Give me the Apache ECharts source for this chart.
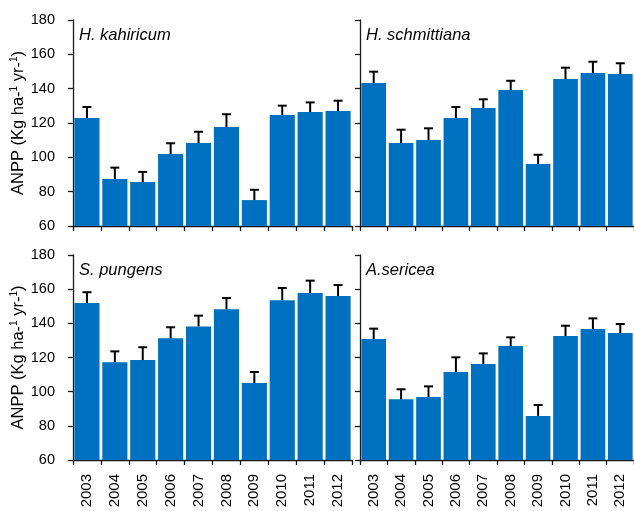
<!DOCTYPE html>
<html>
<head>
<meta charset="utf-8">
<script src="https://cdn.jsdelivr.net/npm/echarts@6/dist/echarts.min.js"></script>
<style>
  html, body { margin: 0; padding: 0; background: #fff; }
  #chart { width: 634px; height: 511px; }
</style>
</head>
<body>
<div id="chart"></div>
<script>
// Years on the category axis
const years = ['2003', '2004', '2005', '2006', '2007', '2008', '2009', '2010', '2011', '2012'];

// Y-axis range and step (Kg ha-1 yr-1)
const yMin = 60;
const yMax = 180;
const yStep = 20;

// Species shown in each panel
const species = ['H. kahiricum', 'H. schmittiana', 'S. pungens', 'A.sericea'];

// Mean ANPP per year, one array per species
const kahiricum   = [122.9, 87.4, 85.6, 101.9, 108.3, 117.7, 75.1, 124.7, 126.4, 127.0];
const schmittiana = [143.3, 108.3, 110.1, 122.9, 128.7, 139.2, 96.1, 145.6, 149.1, 148.5];
const pungens     = [151.9, 117.2, 118.5, 131.2, 138.2, 148.2, 105.1, 153.5, 157.8, 156.0];
const sericea     = [130.8, 95.5, 96.9, 111.5, 116.2, 126.7, 85.8, 132.6, 136.7, 134.3];

// Standard error per year (drawn upward from the bar top)
const kahiricumErr   = [6.4, 6.6, 5.9, 6.3, 6.6, 7.4, 6.0, 5.4, 5.6, 6.0];
const schmittianaErr = [6.6, 7.8, 6.8, 6.4, 5.1, 5.4, 5.4, 6.6, 6.6, 6.3];
const pungensErr     = [6.3, 6.4, 7.5, 6.5, 6.3, 6.6, 6.4, 7.2, 7.2, 6.4];
const sericeaErr     = [6.1, 5.9, 6.2, 8.6, 6.2, 5.1, 6.4, 6.0, 6.2, 5.3];

const means = [kahiricum, schmittiana, pungens, sericea];
const errs = [kahiricumErr, schmittianaErr, pungensErr, sericeaErr];

const FONT = 'Liberation Sans';
const AXIS_COLOR = '#1a1a1a';
const BAR_COLOR = '#0070C0';

// Panel boxes: [left, top, width, height]
const boxes = [
  [73, 20, 279, 206],
  [360, 20, 276, 206],
  [73, 255, 279, 205],
  [360, 255, 276, 205]
];

const grids = boxes.map(b => ({ left: b[0], top: b[1], width: b[2], height: b[3], containLabel: false }));

const xAxes = boxes.map((b, i) => ({
  type: 'category',
  gridIndex: i,
  data: years,
  boundaryGap: true,
  axisLine: { show: true, lineStyle: { color: AXIS_COLOR, width: 1.3 } },
  axisTick: { show: true, inside: false, length: 5, alignWithLabel: false, lineStyle: { color: AXIS_COLOR, width: 1.3 } },
  axisLabel: {
    show: i >= 2,
    rotate: 90,
    margin: 14,
    interval: 0,
    fontFamily: FONT,
    fontSize: 15,
    color: '#000'
  },
  splitLine: { show: false }
}));

const axisNameRich = {
  base: { fontFamily: FONT, fontSize: 16.5, color: '#000' },
  sup: { fontFamily: FONT, fontSize: 10, color: '#000', padding: [0, 0, 9, 0] }
};
const axisName = '{base|ANPP (Kg ha-}{sup|1}{base| yr-}{sup|1}{base|)}';

const yAxes = boxes.map((b, i) => ({
  type: 'value',
  gridIndex: i,
  min: yMin,
  max: yMax,
  interval: yStep,
  name: (i % 2 === 0) ? axisName : '',
  nameLocation: 'middle',
  nameRotate: 90,
  nameGap: 45,
  nameTextStyle: { rich: axisNameRich },
  axisLine: { show: true, lineStyle: { color: AXIS_COLOR, width: 1.3 } },
  axisTick: { show: true, inside: false, length: 5, lineStyle: { color: AXIS_COLOR, width: 1.3 } },
  axisLabel: {
    show: i % 2 === 0,
    margin: 18,
    fontFamily: FONT,
    fontSize: 14.5,
    color: '#000'
  },
  splitLine: { show: false }
}));

const titles = boxes.map((b, i) => ({
  text: species[i],
  left: b[0] + 6,
  top: b[1] + 7,
  padding: 0,
  textStyle: { fontFamily: FONT, fontSize: 16.5, fontStyle: 'italic', fontWeight: 'normal', color: '#000' }
}));

const series = [];
means.forEach((vals, i) => {
  series.push({
    type: 'bar',
    xAxisIndex: i,
    yAxisIndex: i,
    data: vals,
    barCategoryGap: '10%',
    itemStyle: { color: BAR_COLOR },
    silent: true,
    z: 2
  });
  series.push({
    type: 'custom',
    xAxisIndex: i,
    yAxisIndex: i,
    data: vals.map((v, k) => [k, v, v + errs[i][k]]),
    z: 3,
    silent: true,
    renderItem: function (params, api) {
      const base = api.coord([api.value(0), api.value(1)]);
      const top = api.coord([api.value(0), api.value(2)]);
      const half = 4.5;
      const style = { stroke: '#000', lineWidth: 2 };
      return {
        type: 'group',
        children: [
          { type: 'line', shape: { x1: base[0], y1: base[1], x2: top[0], y2: top[1] }, style: style },
          { type: 'line', shape: { x1: top[0] - half, y1: top[1], x2: top[0] + half, y2: top[1] }, style: style }
        ]
      };
    }
  });
});

const chart = echarts.init(document.getElementById('chart'), null, { renderer: 'canvas' });
chart.setOption({
  animation: false,
  backgroundColor: '#fff',
  title: titles,
  grid: grids,
  xAxis: xAxes,
  yAxis: yAxes,
  series: series
});
</script>
</body>
</html>
